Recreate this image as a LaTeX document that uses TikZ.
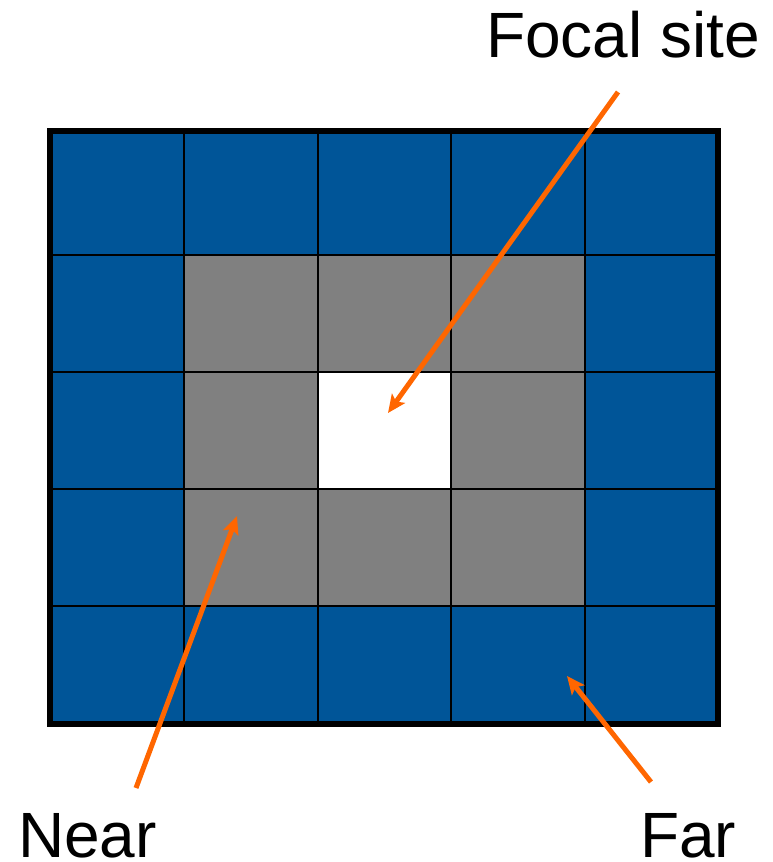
\documentclass[tikz,border=0pt]{standalone}
\usepackage{fontspec}
\setmainfont{Liberation Sans}
\usetikzlibrary{arrows.meta}
\definecolor{farblue}{RGB}{0,85,152}
\definecolor{neargray}{RGB}{128,128,128}
\definecolor{arroworange}{RGB}{255,102,0}
\tikzset{
  lbl/.style={inner sep=0pt,anchor=base west,font=\fontsize{64}{70}\selectfont},
  pointerarrow/.style={arroworange,line width=5pt,->},
}
\begin{document}
\begin{tikzpicture}[x=1pt,y=-1pt,>={Stealth[length=18pt,width=16pt,inset=4pt]}]
  \useasboundingbox (0,0) rectangle (773,862);
  % zones
  \fill[farblue] (50,131) rectangle (718,724);
  \fill[neargray] (184,255) rectangle (585,606);
  \fill[white] (318,372) rectangle (451,489);
  % cell lines
  \foreach \xx in {184,318,451,585}{
    \draw[line width=2.5pt] (\xx,131) -- (\xx,724);
  }
  \foreach \yy in {255,372,489,606}{
    \draw[line width=2.5pt] (50,\yy) -- (718,\yy);
  }
  \draw[line width=6pt] (50,131) rectangle (718,724);
  % labels
  \node[lbl] (focal) at (486,57) {Focal site};
  \node[lbl] (near) at (18,857) {Near};
  \node[lbl] (far) at (640,857) {Far};
  \coordinate (focaltail) at (618,92);
  \coordinate (focaltip) at (388,413);
  \coordinate (neartail) at (136,788);
  \coordinate (neartip) at (237,516);
  \coordinate (fartail) at (651,782);
  \coordinate (fartip) at (567,676);
  \draw[pointerarrow] (focaltail) -- (focaltip);
  \draw[pointerarrow] (neartail) -- (neartip);
  \draw[pointerarrow] (fartail) -- (fartip);
\end{tikzpicture}
\end{document}
